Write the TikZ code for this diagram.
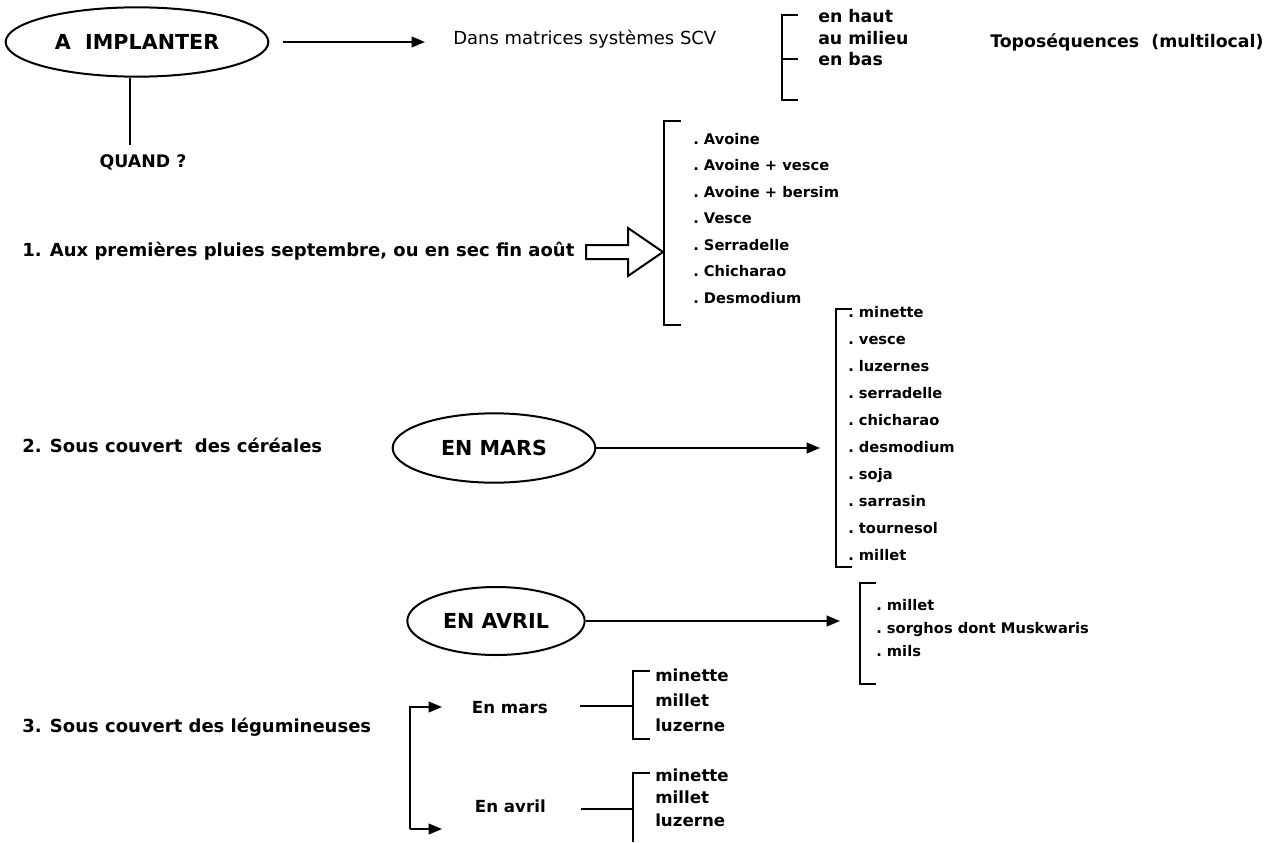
\documentclass[tikz,border=0pt]{standalone}
\usepackage{fontspec}
\setmainfont{DejaVu Sans}
\usetikzlibrary{shapes.geometric,arrows.meta}
\begin{document}
\begin{tikzpicture}[x=0.75pt,y=-0.75pt,
  lbl/.style={font=\bfseries\fontsize{13}{15}\selectfont, inner sep=0pt, anchor=west, text height=1.6ex, text depth=0.4ex},
  sec/.style={lbl, font=\bfseries\fontsize{13.5}{16}\selectfont},
  itm/.style={font=\bfseries\fontsize{11}{13}\selectfont, inner sep=0pt, anchor=west, text height=1.6ex, text depth=0.4ex},
  sub/.style={itm, font=\bfseries\fontsize{12.5}{15}\selectfont},
  oval/.style={draw, ellipse, line width=1.5pt, inner sep=0pt, font=\bfseries\fontsize{15.5}{18}\selectfont},
  brk/.style={line width=1.2pt},
  arr/.style={line width=1.3pt, -{Triangle[length=10pt,width=8pt]}},
]
\useasboundingbox (0,0) rectangle (1266,842);

% --- top row: what to set up, and where
\node[oval, minimum width=197pt, minimum height=52pt] (implant) at (137,42) {A\ \ IMPLANTER};
\node[lbl, anchor=center] (quand) at (143,163) {QUAND ?};
\coordinate (qtop) at (130,145);
\draw[brk] (qtop |- implant.south) -- (qtop);

\node[lbl, font=\fontsize{13.5}{16}\selectfont] (dans) at (453,40) {Dans matrices systèmes SCV};
\draw[arr, shorten <=10pt, shorten >=21pt] (implant.east) -- (implant.east -| dans.west);

\coordinate (b1t) at (782,15);
\coordinate (b1m) at (782,59);
\coordinate (b1b) at (782,100);
\draw[brk] ([xshift=12pt]b1t) -- (b1t) -- (b1b) -- ([xshift=12pt]b1b);
\draw[brk] (b1m) -- ([xshift=12pt]b1m);
\node[lbl] (haut) at (818,18) {en haut};
\node[lbl] (milieu) at (818,40) {au milieu};
\node[lbl] (bas) at (818,61) {en bas};
\node[lbl] (topo) at (990,43) {Toposéquences\ \ (multilocal)};

% --- 1. early sowing
\node[sec] (s1) at (22,252) {1. Aux premières pluies septembre, ou en sec fin août};
\coordinate (ba) at (663,252);
\draw[line width=1.5pt, line join=miter] (ba) -- (628,228) -- (628,245) -- (586,245)
  -- (586,259) -- (628,259) -- (628,276) -- cycle;
\coordinate (b2t) at (664,121);
\coordinate (b2b) at (664,325);
\draw[brk] ([xshift=12.5pt]b2t) -- (b2t) -- (b2b) -- ([xshift=12.5pt]b2b);
\foreach \t [count=\i from 0] in {Avoine, Avoine + vesce, Avoine + bersim, Vesce, Serradelle, Chicharao, Desmodium}
  \node[itm] (l1-\i) at (693,140+26.5*\i) {.\ \t};

% --- 2. under cereals
\node[sec] (s2) at (22,448) {2. Sous couvert\ \ des céréales};
\node[oval, minimum width=152pt, minimum height=52pt] (mars) at (494,448) {EN MARS};
\coordinate (b3a) at (820,448);
\draw[arr] (mars.east) -- (b3a);
\coordinate (b3t) at (836,309);
\coordinate (b3b) at (836,567);
\draw[brk] ([xshift=12pt]b3t) -- (b3t) -- (b3b) -- ([xshift=12pt]b3b);
\foreach \t [count=\i from 0] in {minette, vesce, luzernes, serradelle, chicharao, desmodium, soja, sarrasin, tournesol, millet}
  \node[itm] (l2-\i) at (848,313+27*\i) {.\ \t};

\node[oval, minimum width=133pt, minimum height=51pt] (avril) at (496,621) {EN AVRIL};
\coordinate (b4a) at (840,621);
\draw[arr] (avril.east) -- (b4a);
\coordinate (b4t) at (860,583);
\coordinate (b4b) at (860,684);
\draw[brk] ([xshift=12pt]b4t) -- (b4t) -- (b4b) -- ([xshift=12pt]b4b);
\node[itm] (l3-0) at (876,606) {.\ millet};
\node[itm] (l3-1) at (876,629) {.\ sorghos dont Muskwaris};
\node[itm] (l3-2) at (876,652) {.\ mils};

% --- 3. under legumes
\node[sec] (s3) at (22,728) {3. Sous couvert des légumineuses};
\node[sub, anchor=east] (emars) at (548,709) {En mars};
\node[sub, anchor=east] (eavril) at (546,808) {En avril};
\coordinate (v3t) at (410,707);
\coordinate (v3b) at (410,829);
\coordinate (v3f) at (442,707);
\coordinate (v3e) at (442,829);
\draw[arr] (v3b) -- (v3t) -- (v3f);
\draw[arr] (v3b) -- (v3e);

\coordinate (b5m) at (633,706);
\draw[brk, shorten <=24pt] (emars.east |- b5m) -- (b5m);
\coordinate (b5t) at (633,671);
\coordinate (b5b) at (633,739);
\draw[brk] ([xshift=13pt]b5t) -- (b5t) -- (b5b) -- ([xshift=13pt]b5b);
\node[sub] (m1) at (655,677) {minette};
\node[sub] (m2) at (655,702) {millet};
\node[sub] (m3) at (655,727) {luzerne};

\coordinate (b6m) at (633,809);
\draw[brk, shorten <=26pt] (eavril.east |- b6m) -- (b6m);
\coordinate (b6t) at (633,773);
\coordinate (b6b) at (633,842);
\draw[brk] ([xshift=13pt]b6t) -- (b6t) -- (b6b);
\node[sub] (a1) at (655,777) {minette};
\node[sub] (a2) at (655,799) {millet};
\node[sub] (a3) at (655,822) {luzerne};
\end{tikzpicture}
\end{document}
